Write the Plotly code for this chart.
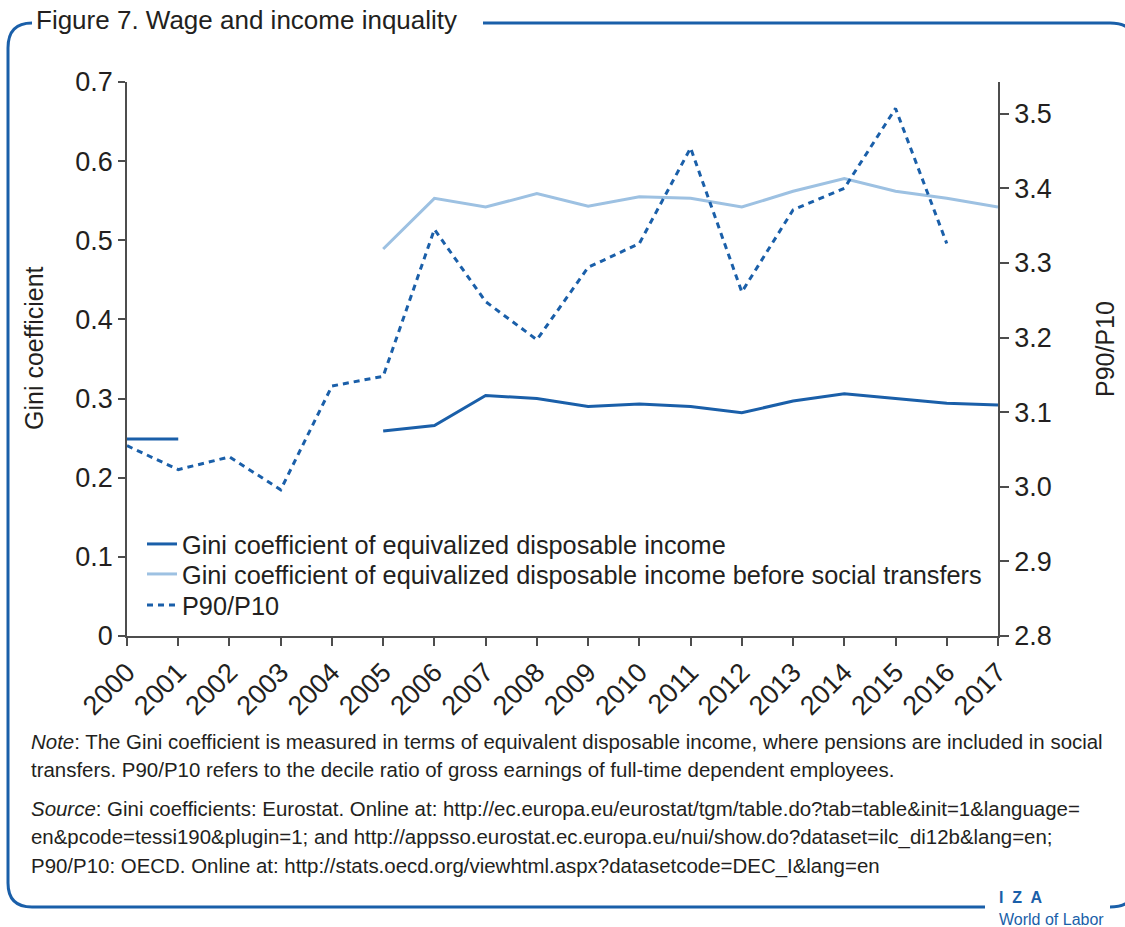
import plotly.graph_objects as go

years = list(range(2000, 2018))
gini_disposable = [0.249, 0.249, None, None, None, 0.259, 0.266, 0.304, 0.300, 0.290,
                   0.293, 0.290, 0.282, 0.297, 0.306, 0.300, 0.294, 0.292]
gini_before_transfers = [None, None, None, None, None, 0.489, 0.553, 0.542, 0.559, 0.543,
                         0.555, 0.553, 0.542, 0.562, 0.578, 0.562, 0.553, 0.542]
p90_p10 = [3.055, 3.023, 3.040, 2.996, 3.135, 3.148, 3.345, 3.248, 3.197, 3.294,
           3.326, 3.454, 3.261, 3.371, 3.400, 3.507, 3.326, None]

left_ticks = [0, 0.1, 0.2, 0.3, 0.4, 0.5, 0.6, 0.7]
left_ticklabels = ["0", "0.1", "0.2", "0.3", "0.4", "0.5", "0.6", "0.7"]
right_ticks = [2.8, 2.9, 3.0, 3.1, 3.2, 3.3, 3.4, 3.5]
right_ticklabels = ["2.8", "2.9", "3.0", "3.1", "3.2", "3.3", "3.4", "3.5"]

series_names = ["Gini coefficient of equivalized disposable income",
                "Gini coefficient of equivalized disposable income before social transfers",
                "P90/P10"]

title_text = "Figure 7. Wage and income inquality"
note_lines = [
    "<i>Note</i>: The Gini coefficient is measured in terms of equivalent disposable income, where pensions are included in social",
    "transfers. P90/P10 refers to the decile ratio of gross earnings of full-time dependent employees.",
    "<i>Source</i>: Gini coefficients: Eurostat. Online at: http://ec.europa.eu/eurostat/tgm/table.do?tab=table&amp;init=1&amp;language=",
    "en&amp;pcode=tessi190&amp;plugin=1; and http://appsso.eurostat.ec.europa.eu/nui/show.do?dataset=ilc_di12b&amp;lang=en;",
    "P90/P10: OECD. Online at: http://stats.oecd.org/viewhtml.aspx?datasetcode=DEC_I&amp;lang=en",
]
note_y_px = [741, 769, 808, 837, 866]
legend_y_px = [544, 574, 605]

W, H = 1125, 927
ML, MR, MT, MB = 127, 127, 82, 291
PW, PH = W - ML - MR, H - MT - MB

def px(xp):
    return (xp - ML) / PW

def py(yp):
    return (H - MB - yp) / PH

DARK = "#1a5fa9"
LIGHT = "#9dc1e2"
TEXT = "#231f20"
AXIS = "#4d4d4d"
FONT = "Liberation Sans, Arial, sans-serif"

fig = go.Figure()
fig.add_trace(go.Scatter(x=years, y=gini_disposable, mode="lines", name=series_names[0],
                         legend="legend",
                         line=dict(color=DARK, width=3), connectgaps=False))
fig.add_trace(go.Scatter(x=years, y=gini_before_transfers, mode="lines", name=series_names[1],
                         legend="legend2",
                         line=dict(color=LIGHT, width=3), connectgaps=False))
fig.add_trace(go.Scatter(x=years, y=p90_p10, mode="lines", name=series_names[2], yaxis="y2",
                         legend="legend3",
                         line=dict(color=DARK, width=3, dash="6px,5px"), connectgaps=False))

def legend_at(yp):
    return dict(x=px(142), y=py(yp), xanchor="left", yanchor="middle",
                bgcolor="rgba(0,0,0,0)", font=dict(size=25.3, color=TEXT),
                itemwidth=30, borderwidth=0)

TICKFONT = dict(size=27, color=TEXT)
fig.update_layout(
    width=W, height=H,
    margin=dict(l=ML, r=MR, t=MT, b=MB),
    paper_bgcolor="white", plot_bgcolor="white",
    font=dict(family=FONT, size=25, color=TEXT),
    xaxis=dict(range=[2000, 2017], tickmode="array", tickvals=years,
               ticktext=[str(y) for y in years], tickangle=-45,
               showgrid=False, zeroline=False, showline=True, linecolor=AXIS, linewidth=1.5,
               ticks="outside", ticklen=8, tickcolor=AXIS, tickwidth=1.5,
               tickfont=TICKFONT),
    yaxis=dict(range=[0, 0.7], tickmode="array", tickvals=left_ticks, ticktext=left_ticklabels,
               showgrid=False, zeroline=False, showline=True, linecolor=AXIS, linewidth=1.5,
               ticks="outside", ticklen=7, tickcolor=AXIS, tickwidth=1.5,
               tickfont=TICKFONT),
    yaxis2=dict(range=[2.8, 3.5424], overlaying="y", side="right", tickmode="array",
                tickvals=right_ticks, ticktext=right_ticklabels,
                showgrid=False, zeroline=False, showline=True, linecolor=AXIS, linewidth=1.5,
                ticks="outside", ticklen=9, tickcolor=AXIS, tickwidth=1.5,
                tickfont=TICKFONT),
    showlegend=True,
    legend=legend_at(legend_y_px[0]),
    legend2=legend_at(legend_y_px[1]),
    legend3=legend_at(legend_y_px[2]),
)

annotations = [
    dict(text="Gini coefficient", x=px(34), y=py(348), xref="paper", yref="paper",
         textangle=-90, showarrow=False, font=dict(size=25, color=TEXT),
         xanchor="center", yanchor="middle"),
    dict(text="P90/P10", x=px(1105), y=py(349), xref="paper", yref="paper",
         textangle=-90, showarrow=False, font=dict(size=25, color=TEXT),
         xanchor="center", yanchor="middle"),
    dict(text=title_text, x=px(34), y=py(20), xref="paper", yref="paper",
         showarrow=False, font=dict(size=26, color=TEXT), xanchor="left", yanchor="middle"),
    dict(text="<b>I  Z  A</b>", x=px(997), y=py(897), xref="paper", yref="paper",
         showarrow=False, font=dict(size=16, color=DARK), xanchor="left", yanchor="middle"),
    dict(text="World of Labor", x=px(997), y=py(919), xref="paper", yref="paper",
         showarrow=False, font=dict(size=16, color=DARK), xanchor="left", yanchor="middle"),
]
for line, yp in zip(note_lines, note_y_px):
    annotations.append(dict(text=line, x=px(29), y=py(yp), xref="paper", yref="paper",
                            showarrow=False, font=dict(size=20.45, color=TEXT),
                            xanchor="left", yanchor="middle", align="left"))
fig.update_layout(annotations=annotations)

def pt(xp, yp):
    return f"{px(xp):.5f},{py(yp):.5f}"

border_main = (f"M {pt(483, 23)} L {pt(1110, 23)} Q {pt(1137, 23)} {pt(1137, 50)} "
               f"L {pt(1137, 880)}")
border_left = (f"M {pt(32, 23)} Q {pt(8, 23)} {pt(8, 48)} L {pt(8, 883)} "
               f"Q {pt(8, 907)} {pt(32, 907)} L {pt(985, 907)}")
border_br = f"M {pt(1110, 907)} Q {pt(1137, 907)} {pt(1137, 880)}"
shapes = []
for p in (border_main, border_left, border_br):
    shapes.append(dict(type="path", path=p, xref="paper", yref="paper",
                       line=dict(color=DARK, width=3), layer="above"))
fig.update_layout(shapes=shapes)

fig.write_html("out.html", config={"displayModeBar": False},
               post_script="document.body.style.margin='0px';document.body.style.overflow='hidden';")
